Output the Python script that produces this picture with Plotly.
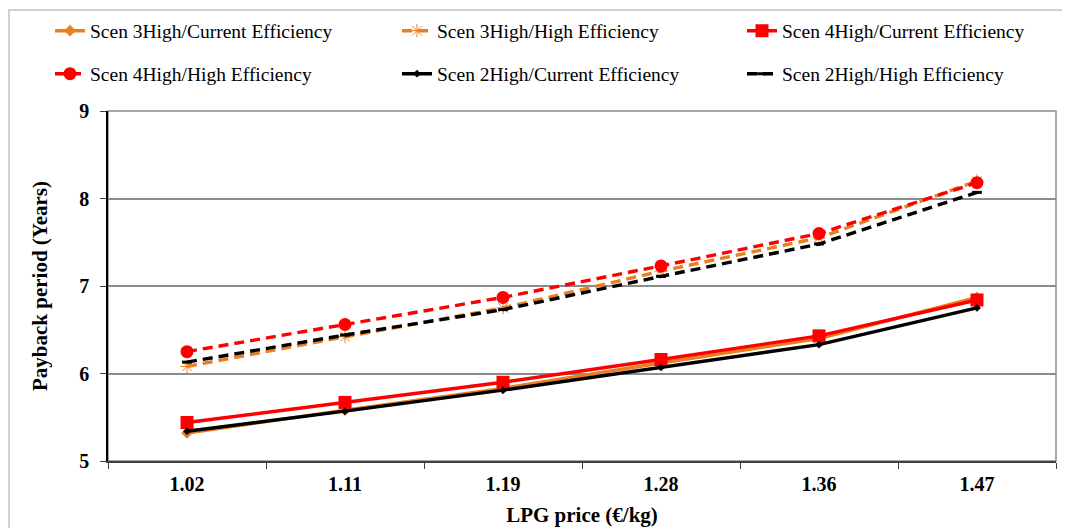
import plotly.graph_objects as go

categories = ["1.02", "1.11", "1.19", "1.28", "1.36", "1.47"]

s3_current = [5.32, 5.58, 5.83, 6.12, 6.40, 6.87]
s3_high = [6.08, 6.42, 6.75, 7.17, 7.55, 8.20]
s4_current = [5.44, 5.67, 5.90, 6.16, 6.43, 6.84]
s4_high = [6.25, 6.56, 6.87, 7.23, 7.60, 8.18]
s2_current = [5.34, 5.57, 5.81, 6.07, 6.33, 6.75]
s2_high = [6.13, 6.44, 6.73, 7.11, 7.48, 8.07]

names = [
    "Scen 3High/Current Efficiency",
    "Scen 3High/High Efficiency",
    "Scen 4High/Current Efficiency",
    "Scen 4High/High Efficiency",
    "Scen 2High/Current Efficiency",
    "Scen 2High/High Efficiency",
]

y_title = "Payback period (Years)"
x_title = "LPG price (€/kg)"

ORANGE = "#E8801F"
RED = "#FF0000"
BLACK = "#000000"
DASH = "10px,6px"
FONT = "Liberation Serif"

# the page body has an 8px margin, so the figure is sized/shifted to compensate
OFF = 8
W, H = 1070 - OFF, 528 - OFF
L, R, T, B = 108 - OFF, 14, 111 - OFF, 67
pw, ph = W - L - R, H - T - B

fig = go.Figure()

specs = [
    (s3_current, names[0], ORANGE, "solid", dict(symbol="diamond", size=9, color=ORANGE)),
    (s3_high, names[1], ORANGE, DASH, dict(symbol="asterisk-open", size=11, color=ORANGE, line=dict(color=ORANGE, width=1))),
    (s4_current, names[2], RED, "solid", dict(symbol="square", size=13, color=RED)),
    (s4_high, names[3], RED, DASH, dict(symbol="circle", size=13, color=RED)),
    (s2_current, names[4], BLACK, "solid", dict(symbol="diamond", size=6, color=BLACK)),
    (s2_high, names[5], BLACK, DASH, dict(symbol="line-ew-open", size=7, color=BLACK, line=dict(color=BLACK, width=3))),
]

# legend slots (text left edge x, row centre y) in page pixels
legend_pos = [(90, 31), (437, 31), (782, 31), (90, 74), (437, 74), (782, 74)]

legend_layout = {}
for i, (vals, name, color, dash, marker) in enumerate(specs):
    lg = "legend" if i == 0 else f"legend{i + 1}"
    fig.add_trace(go.Scatter(
        x=categories, y=vals, name=name, mode="lines+markers",
        line=dict(color=color, width=3.4, dash=dash),
        marker=marker, legend=lg,
    ))
    tx, ty = legend_pos[i]
    legend_layout[lg] = dict(
        xref="container", yref="container",
        x=(tx - OFF - 40) / W, y=1 - (ty - OFF) / H,
        xanchor="left", yanchor="middle",
        font=dict(family=FONT, size=19.5, color="black"),
        bgcolor="rgba(0,0,0,0)",
        itemclick=False, itemdoubleclick=False,
    )

fig.update_layout(
    width=W, height=H,
    paper_bgcolor="white", plot_bgcolor="white",
    margin=dict(l=L, r=R, t=T, b=B, autoexpand=False),
    font=dict(family=FONT, color="black"),
    showlegend=True,
    **legend_layout,
)

fig.update_xaxes(
    type="category", range=[-0.5, 5.5], automargin=False,
    showline=True, linecolor="#404040", linewidth=1.5,
    ticks="outside", ticklen=6, tickcolor="#404040", tickwidth=1,
    tickson="boundaries", ticklabelstandoff=4,
    showgrid=False, zeroline=False,
    tickfont=dict(family=FONT, size=20, color="black"),
    tickprefix="<b>", ticksuffix="</b>",
    title=dict(text=f"<b>{x_title}</b>", font=dict(family=FONT, size=21, color="black"), standoff=14),
)

fig.update_yaxes(
    range=[5, 9], dtick=1, tick0=5, automargin=False,
    showline=True, linecolor="black", linewidth=1.5,
    ticks="outside", ticklen=6, tickcolor="#404040", tickwidth=1,
    ticklabelstandoff=7,
    showgrid=True, gridcolor="#8C8C8C", gridwidth=1.5,
    zeroline=False,
    tickfont=dict(family=FONT, size=20, color="black"),
    tickprefix="<b>", ticksuffix="</b>",
)

# y-axis title as rotated annotation (page x ~ 40, centred on the plot)
fig.add_annotation(
    text=f"<b>{y_title}</b>", textangle=-90,
    xref="paper", yref="paper", x=(40 - OFF - L) / pw, y=0.5,
    xanchor="center", yanchor="middle", showarrow=False,
    font=dict(family=FONT, size=21, color="black"),
)

# plot area border (top/right) and outer chart border
fig.add_shape(type="rect", xref="paper", yref="paper", x0=0, x1=1, y0=0, y1=1,
              line=dict(color="#8C8C8C", width=1.5), layer="below")
fig.add_shape(type="rect", xref="paper", yref="paper",
              x0=(1 - L) / pw, x1=(1066 - OFF - L) / pw,
              y0=(H - B - 540) / ph, y1=(H - B - 2) / ph,
              line=dict(color="#D0D0D0", width=2), layer="below")

fig.write_html("out.html")
